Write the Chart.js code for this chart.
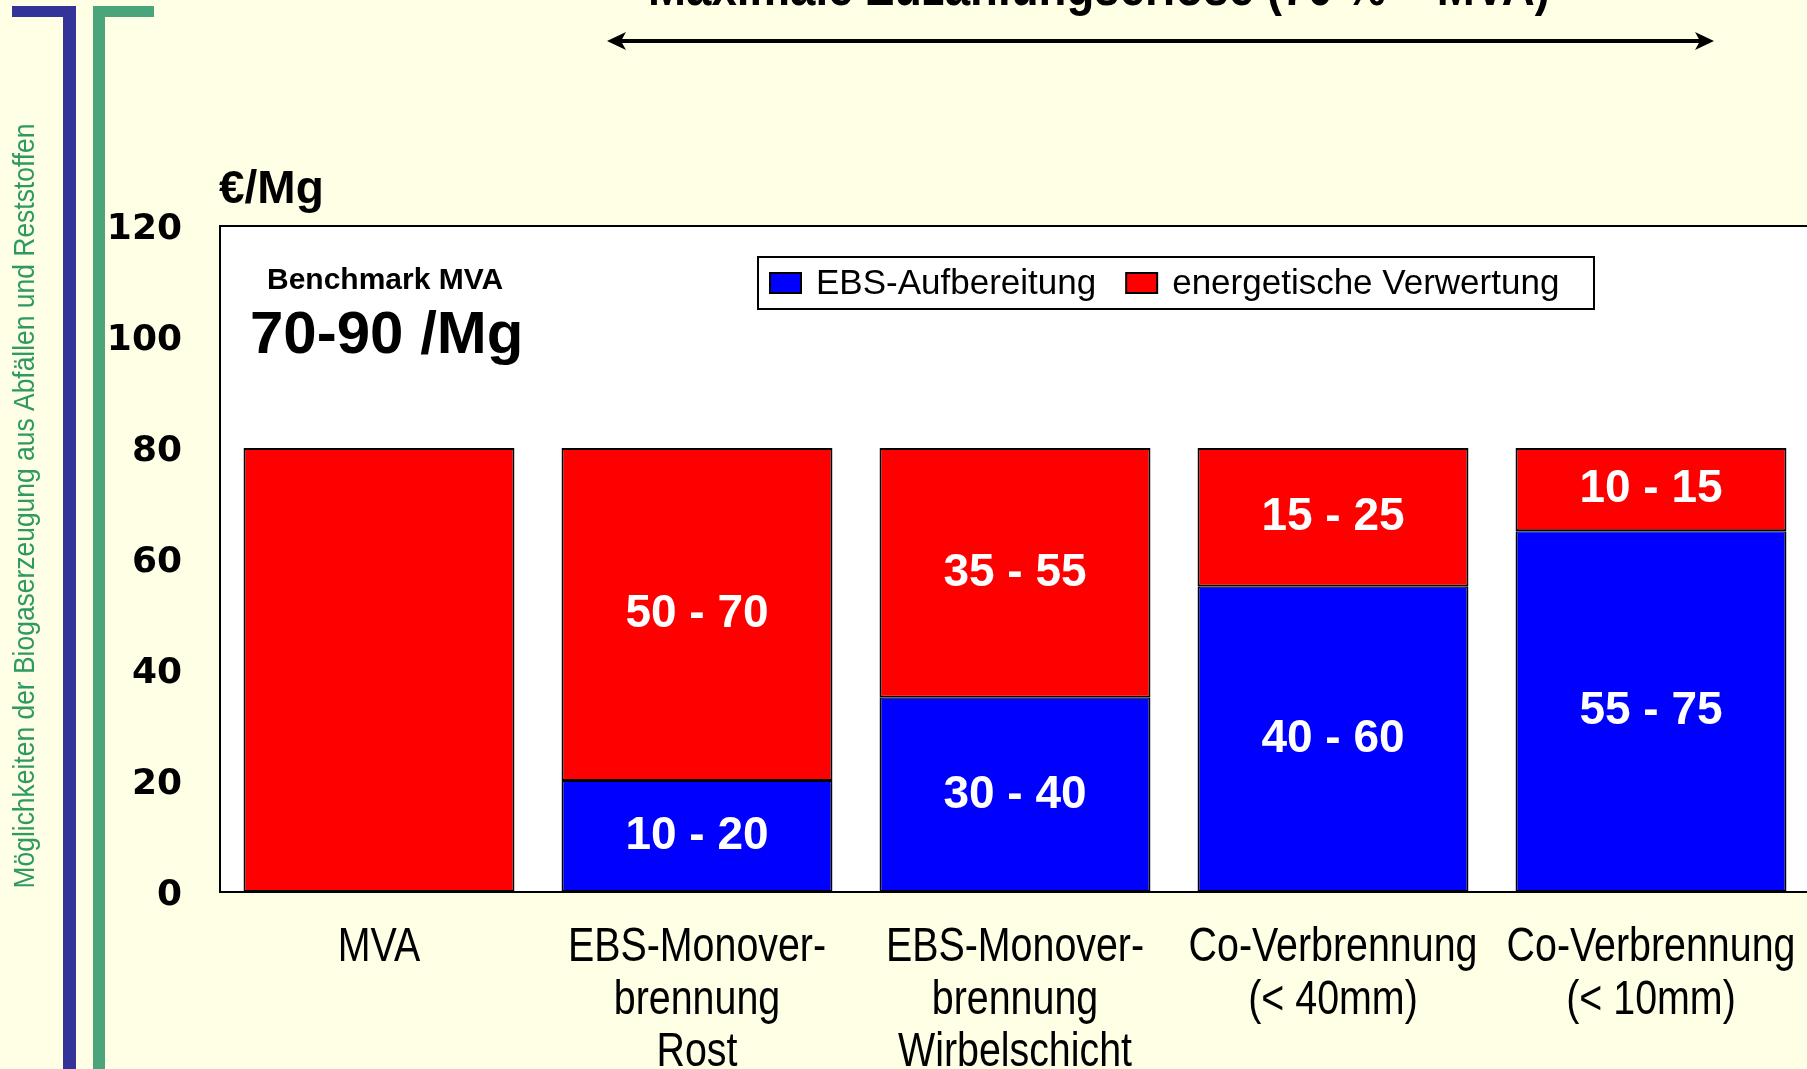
<!DOCTYPE html>
<html>
<head>
<meta charset="utf-8">
<script src="https://cdn.jsdelivr.net/npm/chart.js@4.4.0/dist/chart.umd.min.js"></script>
<style>
  html, body { margin: 0; padding: 0; background: #FFFFE6; overflow: hidden; }
  #wrap { position: relative; width: 1830px; height: 1069px; }
</style>
</head>
<body>
<div id="wrap"><canvas id="chart" width="1830" height="1069"></canvas></div>
<script>
// ── Data ─────────────────────────────────────────────────────────
const categories = [
  ['MVA'],
  ['EBS-Monover-', 'brennung', 'Rost'],
  ['EBS-Monover-', 'brennung', 'Wirbelschicht'],
  ['Co-Verbrennung', '(< 40mm)'],
  ['Co-Verbrennung', '(< 10mm)']
];
const seriesNames = ['EBS-Aufbereitung', 'energetische Verwertung'];
const ebsValues = [0, 20, 35, 55, 65];
const energyValues = [80, 60, 45, 25, 15];
const ebsLabels = ['', '10 - 20', '30 - 40', '40 - 60', '55 - 75'];
const energyLabels = ['', '50 - 70', '35 - 55', '15 - 25', '10 - 15'];
const yTicks = [0, 20, 40, 60, 80, 100, 120];

const SANS = '"Liberation Sans", Arial, sans-serif';
const NARROW_K = 0.82; // Arial Narrow look: squeeze Liberation Sans horizontally

// ── Helpers ──────────────────────────────────────────────────────
const narrowText = (ctx, text, x, y, k) => {
  ctx.save(); ctx.translate(x, y); ctx.scale(k, 1); ctx.fillText(text, 0, 0); ctx.restore();
};
const fitText = (ctx, text, x, y, maxW) => {
  const w = ctx.measureText(text).width;
  narrowText(ctx, text, x, y, Math.min(1, maxW / w));
};

// ── Decorations ──────────────────────────────────────────────────
const deco = {
  id: 'deco',
  beforeDatasetsDraw(chart) {
    const { ctx, chartArea: a } = chart;
    ctx.save();
    ctx.fillStyle = '#ffffff';
    ctx.fillRect(a.left, a.top, a.right - a.left, a.bottom - a.top);
    ctx.restore();
  },
  afterDatasetsDraw(chart) {
    const { ctx, chartArea: a } = chart;
    // segment labels
    ctx.save();
    ctx.fillStyle = '#ffffff';
    ctx.font = 'bold 46px ' + SANS;
    ctx.textAlign = 'center'; ctx.textBaseline = 'middle';
    [ebsLabels, energyLabels].forEach((labels, di) => {
      chart.getDatasetMeta(di).data.forEach((bar, i) => {
        if (!labels[i]) return;
        ctx.fillText(labels[i], bar.x, (bar.y + bar.base) / 2);
      });
    });
    ctx.restore();

    // frame
    ctx.save();
    ctx.strokeStyle = '#000'; ctx.lineWidth = 2;
    ctx.beginPath();
    ctx.moveTo(a.right + 5, a.top); ctx.lineTo(a.left, a.top); ctx.lineTo(a.left, a.bottom); ctx.lineTo(a.right + 5, a.bottom);
    ctx.stroke();
    ctx.restore();

    // category labels (condensed), placed on the x scale
    const xs = chart.scales.x;
    ctx.save();
    ctx.fillStyle = '#000'; ctx.font = '48px ' + SANS;
    ctx.textAlign = 'center'; ctx.textBaseline = 'middle';
    categories.forEach((lines, i) => {
      const cx = xs.getPixelForTick(i);
      lines.forEach((t, j) => narrowText(ctx, t, cx, a.bottom + 56 + j * 52.5, NARROW_K));
    });
    ctx.restore();

    // legend box
    ctx.save();
    const lx = 758, ly = 257, lw = 836, lh = 52;
    ctx.fillStyle = '#fff'; ctx.fillRect(lx, ly, lw, lh);
    ctx.strokeStyle = '#000'; ctx.lineWidth = 2; ctx.strokeRect(lx, ly, lw, lh);
    ctx.font = '35px ' + SANS; ctx.textBaseline = 'middle';
    let x = 770;
    chart.data.datasets.forEach((ds) => {
      ctx.fillStyle = ds.backgroundColor; ctx.fillRect(x, 273, 31, 20);
      ctx.strokeStyle = '#000'; ctx.lineWidth = 2; ctx.strokeRect(x, 273, 31, 20);
      ctx.fillStyle = '#000';
      ctx.fillText(ds.label, x + 46, 284);
      x += 46 + ctx.measureText(ds.label).width + 30;
    });
    ctx.restore();
  },
  afterDraw(chart) {
    const { ctx } = chart;
    ctx.save();
    // unit
    ctx.fillStyle = '#000';
    ctx.font = 'bold 46px ' + SANS; ctx.textBaseline = 'alphabetic'; ctx.textAlign = 'left';
    ctx.fillText('€/Mg', 219, 203);
    // benchmark
    ctx.font = 'bold 30px ' + SANS;
    ctx.fillText('Benchmark MVA', 267, 289);
    ctx.font = 'bold 60px ' + SANS;
    ctx.fillText('70-90 /Mg', 250, 353);

    // cut-off title at top
    ctx.font = 'bold 54px ' + SANS;
    fitText(ctx, 'Maximale Zuzahlungserlöse (70 % – MVA)', 648, 5, 902);

    // double arrow
    ctx.strokeStyle = '#000'; ctx.fillStyle = '#000'; ctx.lineWidth = 4;
    ctx.beginPath(); ctx.moveTo(612, 41); ctx.lineTo(1709, 41); ctx.stroke();
    ctx.beginPath(); ctx.moveTo(607, 41); ctx.lineTo(626, 32); ctx.lineTo(621, 41); ctx.lineTo(626, 50); ctx.closePath(); ctx.fill();
    ctx.beginPath(); ctx.moveTo(1714, 41); ctx.lineTo(1695, 32); ctx.lineTo(1700, 41); ctx.lineTo(1695, 50); ctx.closePath(); ctx.fill();

    // left bars
    ctx.fillStyle = '#333399';
    ctx.fillRect(63, 6, 13, 1063); ctx.fillRect(12, 6, 64, 11);
    ctx.fillStyle = '#4AA57A';
    ctx.fillRect(93, 6, 12, 1063); ctx.fillRect(93, 6, 61, 11);

    // vertical side text
    ctx.fillStyle = '#2E9A62';
    ctx.font = '29px ' + SANS; ctx.textAlign = 'center'; ctx.textBaseline = 'middle';
    ctx.translate(26, 506); ctx.rotate(-Math.PI / 2);
    fitText(ctx, 'Möglichkeiten der Biogaserzeugung aus Abfällen und Reststoffen', 0, 0, 765);
    ctx.restore();
  }
};

// ── Chart ────────────────────────────────────────────────────────
new Chart(document.getElementById('chart'), {
  type: 'bar',
  data: {
    labels: categories,
    datasets: [
      { label: seriesNames[0], data: ebsValues, backgroundColor: '#0000FF', borderColor: '#000',
        borderWidth: { top: 1, left: 2, right: 2, bottom: 2 }, borderSkipped: false },
      { label: seriesNames[1], data: energyValues, backgroundColor: '#FF0000', borderColor: '#000',
        borderWidth: 2, borderSkipped: false }
    ]
  },
  options: {
    responsive: false,
    animation: false,
    devicePixelRatio: 1,
    layout: { padding: { top: 226, right: 20, bottom: 0, left: 0 } },
    plugins: { legend: { display: false }, tooltip: { enabled: false } },
    datasets: { bar: { categoryPercentage: 1, barPercentage: 0.852 } },
    scales: {
      x: {
        stacked: true,
        grid: { display: false, drawTicks: false },
        border: { display: false },
        ticks: { display: false },
        afterFit: s => { s.height = 177; }
      },
      y: {
        stacked: true,
        min: 0, max: 120,
        grid: { display: false, drawTicks: false },
        border: { display: false },
        afterBuildTicks: s => { s.ticks = yTicks.map(v => ({ value: v })); },
        ticks: { color: '#000', font: { family: '"DejaVu Sans", sans-serif', size: 36, weight: 'bold' }, padding: 38, labelOffset: 4 },
        afterFit: s => { s.width = 220; }
      }
    }
  },
  plugins: [deco]
});
</script>
</body>
</html>
